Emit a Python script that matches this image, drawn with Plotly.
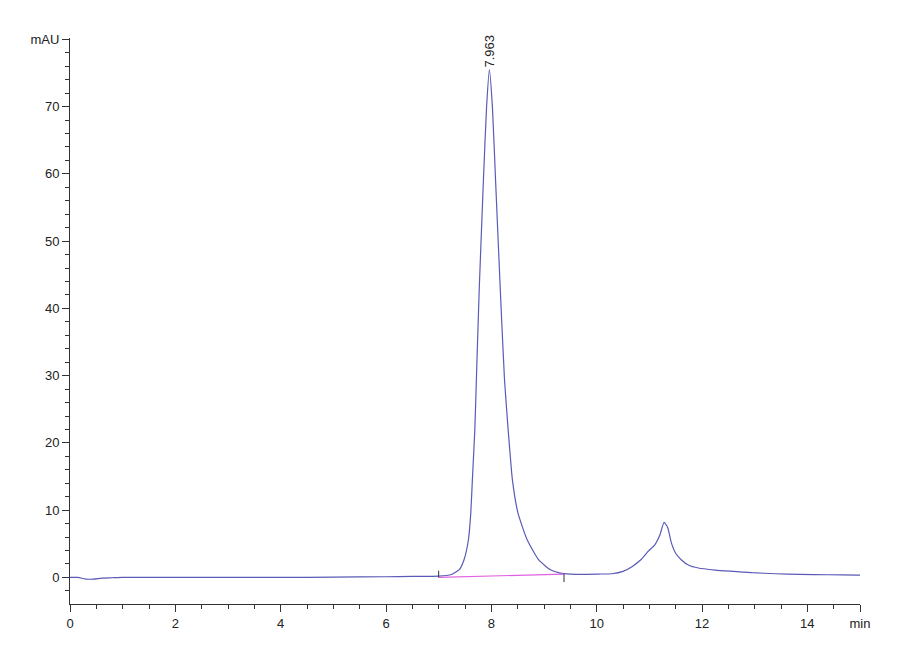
import plotly.graph_objects as go

# chromatogram (time in min, signal in mAU)
time_min = [0.0, 0.15, 0.3, 0.45, 0.6, 0.8, 1.0, 2.0, 3.0, 4.0, 5.0, 6.0, 6.5,
            7.0, 7.23, 7.39, 7.48, 7.565, 7.61, 7.64, 7.686, 7.716, 7.77, 7.85,
            7.91, 7.963, 8.02, 8.08, 8.17, 8.25, 8.32, 8.40, 8.505, 8.68, 8.90,
            9.12, 9.31, 9.5, 9.75, 10.03, 10.29, 10.5, 10.67, 10.85, 10.98,
            11.1, 11.2, 11.28, 11.35, 11.42, 11.5, 11.61, 11.75, 11.93, 12.25,
            12.6, 12.95, 13.4, 13.85, 14.4, 14.95, 15.0]
signal_mau = [0.0, 0.0, -0.25, -0.25, -0.1, -0.05, 0.0, 0.0, 0.0, 0.0, 0.05,
              0.1, 0.15, 0.2, 0.4, 1.15, 2.6, 5.6, 9.6, 14.5, 21.9, 29.4, 42.8,
              59.1, 70.0, 75.5, 70.0, 59.1, 42.8, 29.4, 21.9, 14.5, 9.6, 5.6,
              2.6, 1.15, 0.65, 0.5, 0.45, 0.5, 0.55, 0.9, 1.6, 2.7, 3.9, 4.8,
              6.3, 8.2, 7.4, 5.1, 3.6, 2.6, 1.8, 1.4, 1.1, 0.9, 0.7, 0.55,
              0.45, 0.4, 0.35, 0.35]

# integration baseline of the main peak
base_t = [7.0, 9.38]
base_y = [0.0, 0.5]

peak_rt = 7.963
peak_height = 75.5
peak_label = "7.963"

x_ticks = [0, 2, 4, 6, 8, 10, 12, 14, 15]
x_labels = ["0", "2", "4", "6", "8", "10", "12", "14", "min"]
y_ticks = [0, 10, 20, 30, 40, 50, 60, 70, 80]
y_labels = ["0", "10", "20", "30", "40", "50", "60", "70", "mAU"]

fig = go.Figure()

fig.add_trace(go.Scatter(x=time_min, y=signal_mau, mode="lines",
                         line=dict(color="#5a5ab8", width=1.2, shape="spline", smoothing=0.5),
                         hoverinfo="x+y"))

fig.add_trace(go.Scatter(x=base_t, y=base_y, mode="lines",
                         line=dict(color="#e060e0", width=1.2), hoverinfo="skip"))

# small start / end marks of the baseline
fig.add_trace(go.Scatter(x=[base_t[0], base_t[0]], y=[base_y[0], base_y[0] + 1.0],
                         mode="lines", line=dict(color="#333333", width=1), hoverinfo="skip"))
fig.add_trace(go.Scatter(x=[base_t[1], base_t[1]], y=[base_y[1], base_y[1] - 1.2],
                         mode="lines", line=dict(color="#333333", width=1), hoverinfo="skip"))

fig.add_annotation(x=peak_rt, y=peak_height, text=peak_label, textangle=-90,
                   showarrow=False, xanchor="center", yanchor="bottom",
                   font=dict(size=13, color="#222222"))

fig.update_layout(
    width=900, height=660,
    margin=dict(l=62, r=48, t=30, b=64),
    paper_bgcolor="white", plot_bgcolor="white",
    showlegend=False,
    font=dict(family="Liberation Sans, Arial, sans-serif", size=13, color="#222222"),
)

fig.update_xaxes(range=[0, 15], showgrid=False, zeroline=False,
                 showline=True, linecolor="#333333", linewidth=1,
                 tickmode="array", tickvals=x_ticks, ticktext=x_labels,
                 ticks="outside", ticklen=7, tickcolor="#333333",
                 minor=dict(tickmode="linear", tick0=0, dtick=0.5, ticks="outside",
                            ticklen=4, tickcolor="#333333"))

fig.update_yaxes(range=[-3.95, 80.2], showgrid=False, zeroline=False,
                 showline=True, linecolor="#333333", linewidth=1,
                 tickmode="array", tickvals=y_ticks, ticktext=y_labels,
                 ticks="outside", ticklen=7, tickcolor="#333333",
                 minor=dict(tickmode="linear", tick0=0, dtick=2, ticks="outside",
                            ticklen=4, tickcolor="#333333"))

fig.write_html("out.html")
